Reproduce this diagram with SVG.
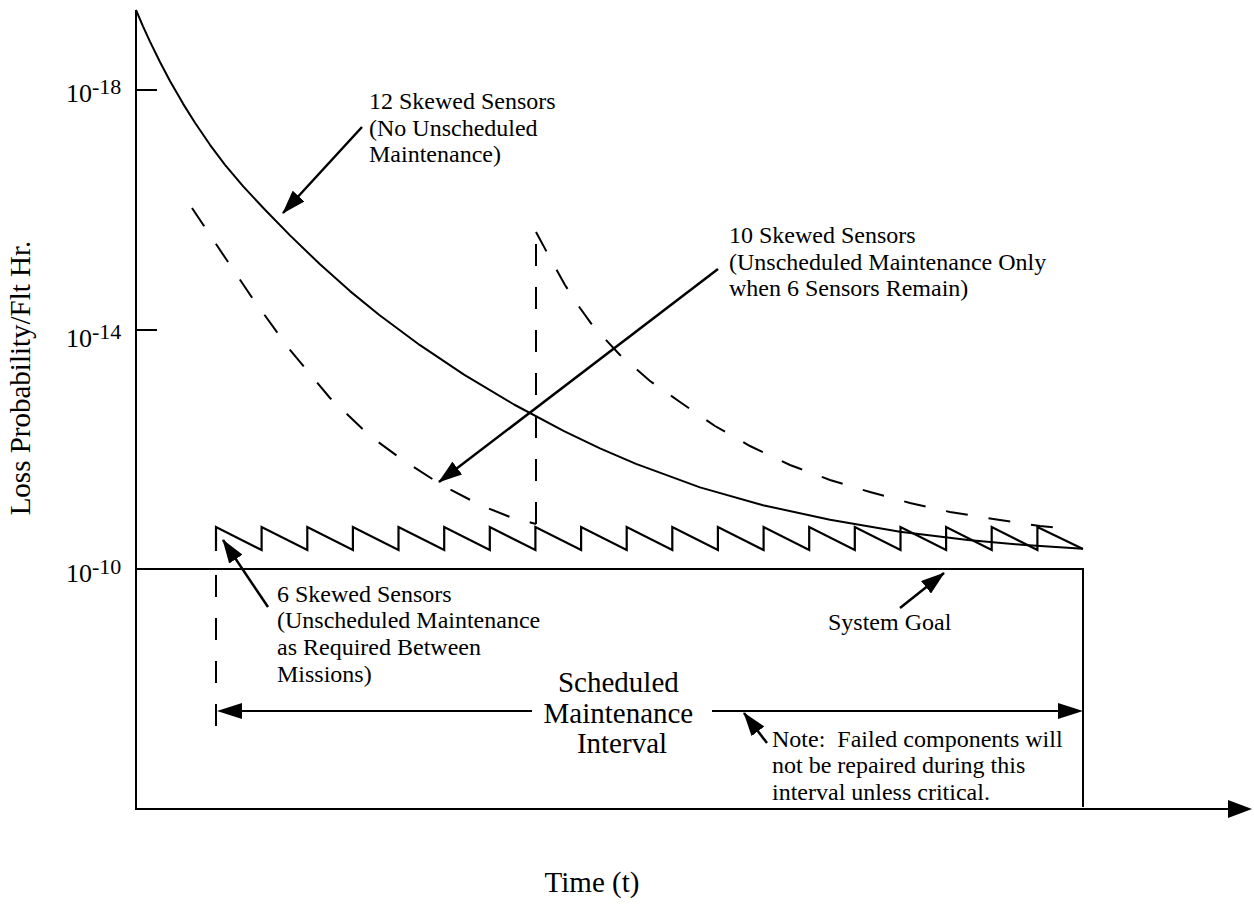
<svg xmlns="http://www.w3.org/2000/svg" width="1254" height="905" viewBox="0 0 1254 905">
  <defs>
    <marker id="head" viewBox="0 0 24 16" refX="23" refY="8" markerWidth="24" markerHeight="16" markerUnits="userSpaceOnUse" orient="auto">
      <path d="M0,0 L24,8 L0,16 Z" fill="#000"/>
    </marker>
  </defs>
  <style>
    .ax { stroke: #000; stroke-width: 2; fill: none; }
    .curve { stroke: #000; stroke-width: 2; fill: none; stroke-linejoin: round; }
    .dash { stroke: #000; stroke-width: 2; fill: none; stroke-dasharray: 22 21; }
    .saw { stroke: #000; stroke-width: 2.2; fill: none; stroke-linejoin: miter; }
    .lead { stroke: #000; stroke-width: 2.5; fill: none; marker-end: url(#head); }
    .lbl { font-family: "Liberation Serif", "Times New Roman", serif; font-size: 24px; fill: #000; }
    .big { font-family: "Liberation Serif", "Times New Roman", serif; font-size: 29px; fill: #000; }
    .tick { font-family: "Liberation Serif", "Times New Roman", serif; font-size: 26px; fill: #000; }
  </style>

  <!-- axes -->
  <g id="axes">
    <line class="ax" x1="136" y1="10" x2="136" y2="809"/>
    <line class="ax" x1="135" y1="809" x2="1230" y2="809"/>
    <path d="M1228,800 L1252,809 L1228,818 Z" fill="#000"/>
    <line class="ax" x1="136" y1="90" x2="157" y2="90"/>
    <line class="ax" x1="136" y1="330" x2="157" y2="330"/>
    <text class="tick" x="66" y="102">10<tspan font-size="22" dy="-8">-18</tspan></text>
    <text class="tick" x="66" y="347">10<tspan font-size="22" dy="-8">-14</tspan></text>
    <text class="tick" x="66" y="582">10<tspan font-size="22" dy="-8">-10</tspan></text>
    <text class="big" transform="translate(30,378) rotate(-90)" text-anchor="middle" font-size="28">Loss Probability/Flt Hr.</text>
    <text class="big" x="592" y="892" text-anchor="middle" font-size="28">Time (t)</text>
  </g>

  <!-- system goal box -->
  <g id="goal">
    <path class="ax" d="M136,569 H1083 V807"/>
  </g>

  <!-- 12 skewed sensors curve -->
  <g id="curve12">
    <path class="curve" d="M136,10 L143,26.3 L150,41.6 L160,62 L170,81 L183,103.6 L195,122.7 L210,144.8 L225,164.8 L243,186.1 L265,209.8 L290,235.4 L320,264.3 L350,291.1 L379,314.7 L420,345.2 L464,374.6 L514,404.5 L564,431.1 L600,448.3 L636,463.9 L700,487.4 L763,505.2 L830,519.8 L900,531.7 L968,540 L1025,545 L1083,548.7"/>
  </g>

  <!-- 10 skewed sensors curve -->
  <g id="curve10">
    <path class="dash" d="M192,208 L220,250 L253,299 L290,350 L330,398 L370,436 L400,458 L440,484 L480,505 L510,517 L536,524"/>
    <path class="dash" d="M536,524 V232"/>
    <path class="dash" d="M536,232 L550,258 L565,285 L580,308 L593,326 L620,355 L650,381 L680,402 L715,426 L750,446 L790,465 L830,480 L870,492 L910,503 L950,512 L1000,520 L1040,526 L1072,529"/>
  </g>

  <!-- 6 skewed sensors sawtooth -->
  <g id="curve6">
    <path class="saw" d="M216,551 V527 L261.6,550 V527 L307.3,550 V527 L352.9,550 V527 L398.5,550 V527 L444.2,550 V527 L489.8,550 V527 L535.4,550 V527 L581.1,550 V527 L626.7,550 V527 L672.3,550 V527 L717.9,550 V527 L763.6,550 V527 L809.2,550 V527 L854.8,550 V527 L900.5,550 V527 L946.1,550 V527 L991.7,550 V527 L1037.4,550 V527 L1083,549"/>
    <path class="dash" d="M216,575 V730" stroke-dasharray="21 24" stroke-width="2.5"/>
  </g>

  <!-- scheduled maintenance interval -->
  <g id="interval">
    <line class="ax" x1="240" y1="711" x2="532" y2="711"/>
    <path d="M217,711 L242,703 L242,719 Z" fill="#000"/>
    <line class="ax" x1="712" y1="711" x2="1060" y2="711"/>
    <path d="M1083,711 L1058,703 L1058,719 Z" fill="#000"/>
    <text class="big" text-anchor="middle">
      <tspan x="622" y="692">Scheduled</tspan>
      <tspan x="622" y="723">Maintenance</tspan>
      <tspan x="622" y="753">Interval</tspan>
    </text>
  </g>

  <!-- labels -->
  <g id="label12">
    <text class="lbl">
      <tspan x="369" y="109">12 Skewed Sensors</tspan>
      <tspan x="369" y="136">(No Unscheduled</tspan>
      <tspan x="369" y="162">Maintenance)</tspan>
    </text>
  </g>
  <g id="label10">
    <text class="lbl">
      <tspan x="729" y="243">10 Skewed Sensors</tspan>
      <tspan x="729" y="270">(Unscheduled Maintenance Only</tspan>
      <tspan x="729" y="296">when 6 Sensors Remain)</tspan>
    </text>
  </g>
  <g id="label6">
    <text class="lbl">
      <tspan x="277" y="602">6 Skewed Sensors</tspan>
      <tspan x="277" y="628">(Unscheduled Maintenance</tspan>
      <tspan x="277" y="655">as Required Between</tspan>
      <tspan x="277" y="682">Missions)</tspan>
    </text>
  </g>
  <g id="labelGoal">
    <text class="lbl" x="828" y="630">System Goal</text>
  </g>
  <g id="labelNote">
    <text class="lbl" xml:space="preserve">
      <tspan x="772" y="747">Note:  Failed components will</tspan>
      <tspan x="772" y="773">not be repaired during this</tspan>
      <tspan x="772" y="800">interval unless critical.</tspan>
    </text>
  </g>

  <!-- leader arrows -->
  <g id="connectors">
    <line class="lead" x1="362" y1="127" x2="283" y2="213"/>
    <line class="lead" x1="718" y1="269" x2="439" y2="482"/>
    <line class="lead" x1="268" y1="607" x2="223" y2="540"/>
    <line class="lead" x1="900" y1="608" x2="944" y2="573"/>
    <line class="lead" x1="767" y1="743" x2="744" y2="713"/>
  </g>
</svg>
